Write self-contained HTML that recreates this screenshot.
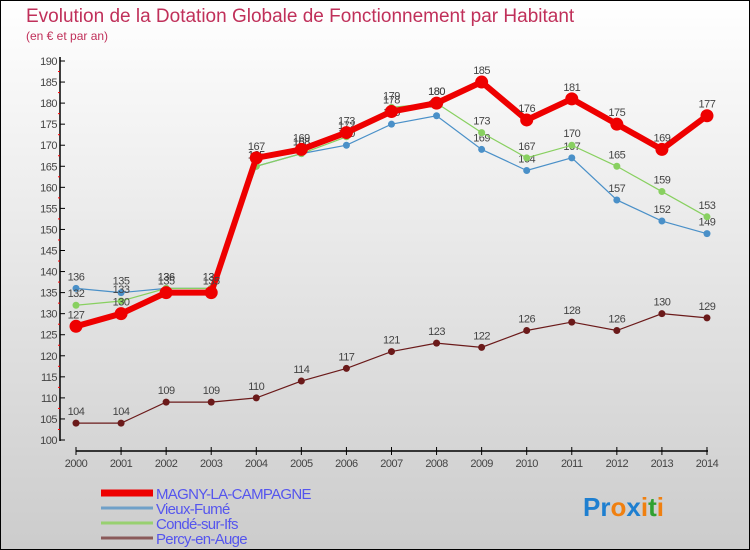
<!DOCTYPE html>
<html><head><meta charset="utf-8"><style>
body{margin:0}
#wrap{width:748px;height:548px;border:1px solid #000;background:linear-gradient(#ffffff,#cccccc);position:relative;overflow:hidden;font-family:"Liberation Sans",sans-serif}
</style></head><body>
<div id="wrap">
<svg id="c" width="748" height="548"></svg>
</div>
<script>
const years=[2000,2001,2002,2003,2004,2005,2006,2007,2008,2009,2010,2011,2012,2013,2014];
const magny=[127,130,135,135,167,169,173,178,180,185,176,181,175,169,177];
const vieux=[136,135,136,136,165,168,170,175,177,169,164,167,157,152,149];
const conde=[132,133,136,136,165,168,172,179,180,173,167,170,165,159,153];
const percy=[104,104,109,109,110,114,117,121,123,122,126,128,126,130,129];
const yTicks=[100,105,110,115,120,125,130,135,140,145,150,155,160,165,170,175,180,185,190];
const seriesNames=["MAGNY-LA-CAMPAGNE","Vieux-Fumé","Condé-sur-Ifs","Percy-en-Auge"];
const NS="http://www.w3.org/2000/svg";
const svg=document.getElementById('c');
function X(i){return 75+i*45.07;}
function Y(v){return 439-(v-100)*(379/90);}
function el(t,a,txt){const e=document.createElementNS(NS,t);for(const k in a)e.setAttribute(k,a[k]);if(txt!==undefined)e.textContent=txt;svg.appendChild(e);return e;}
let e;
e=el('text',{x:25,y:21,'font-size':19,fill:'#c0305a'},'Evolution de la Dotation Globale de Fonctionnement par Habitant');


e=el('text',{x:25,y:39,'font-size':12,fill:'#c0305a'},'(en € et par an)');


e=el('line',{x1:59,y1:56,x2:59,y2:440,stroke:'#000','stroke-width':1.5});


yTicks.forEach(v=>{
 el('line',{x1:59,y1:Y(v),x2:64,y2:Y(v),stroke:'#000'});
 if(v<190) el('line',{x1:57,y1:Y(v+2.5),x2:59,y2:Y(v+2.5),stroke:'#f00'});
 e=el('text',{x:56,y:Y(v)+4,'font-size':11,fill:'#444','text-anchor':'end','letter-spacing':'-0.5'},v);
 
 
});
e=el('line',{x1:75,y1:450,x2:707,y2:450,stroke:'#000','stroke-width':1.5});


years.forEach((yr,i)=>{
 el('line',{x1:X(i),y1:446,x2:X(i),y2:454,stroke:'#000'});
 e=el('text',{x:X(i),y:466,'font-size':11,fill:'#444','text-anchor':'middle','letter-spacing':'-0.5'},yr);
 
 
});
function series(data,color,w,r,name,labelColor){
 const pts=data.map((v,i)=>X(i)+','+Y(v)).join(' ');
 e=el('polyline',{points:pts,fill:'none',stroke:color,'stroke-width':w});
 
 
 data.forEach((v,i)=>{
  e=el('circle',{cx:X(i),cy:Y(v),r:r,fill:color});
  
  
  e=el('text',{x:X(i),y:Y(v)-8,'font-size':11,fill:labelColor,'text-anchor':'middle','letter-spacing':'-0.5'},v);
  
  
 });
}
series(percy,'#6b1a1a',1.2,3.5,'percy','#444');
series(vieux,'#4a90c8',1.2,3.5,'vieux-fume','#444');
series(conde,'#88d060',1.2,3.5,'conde','#444');
series(magny,'#ee0000',6,6.5,'magny','#444');
const legColors=['#ee0000','#6fa0c8','#98d070','#8a5a5a'];
const legW=[7,3,3,3];
seriesNames.forEach((n,i)=>{
 const y=492+i*15;
 e=el('line',{x1:100,y1:y,x2:152,y2:y,stroke:legColors[i],'stroke-width':legW[i]});
 
 
 e=el('text',{x:155,y:y+6,'font-size':15,fill:'#5555ee','letter-spacing':'-0.7'},n);
 
 
});
e=el('text',{x:582,y:515,'font-size':26,'font-weight':'bold','font-family':'Liberation Sans'},'');


[['P','#1e7fd0'],['r','#1e7fd0'],['o','#f08010'],['x','#1e7fd0'],['i','#f08010'],['t','#30a030'],['i','#f08010']].forEach(([c,col])=>{
 const s=document.createElementNS(NS,'tspan');s.setAttribute('fill',col);s.textContent=c;e.appendChild(s);
});
</script>
</body></html>
